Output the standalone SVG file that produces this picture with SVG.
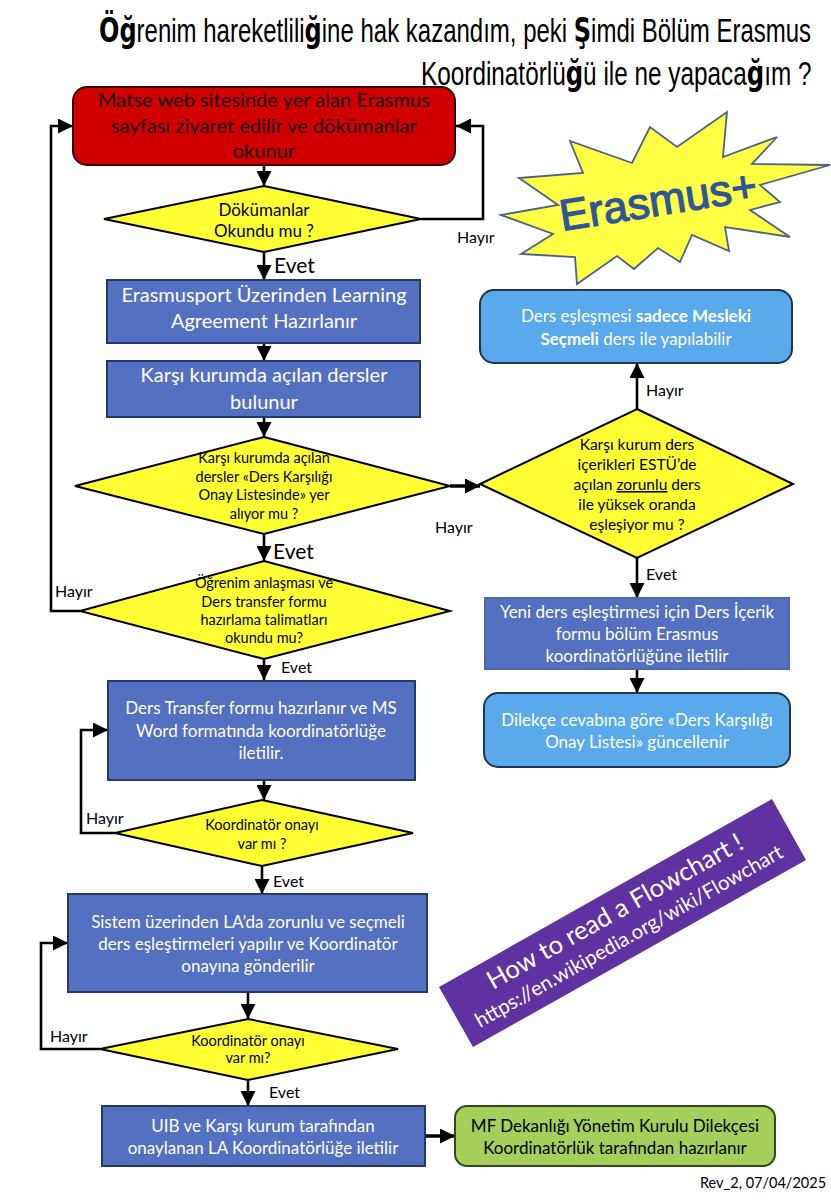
<svg xmlns="http://www.w3.org/2000/svg" width="831" height="1200" viewBox="0 0 831 1200">
<style>
text{font-family:"Lato","Noto Sans",sans-serif;text-anchor:middle}
.t{font-size:17px;fill:#fff}
.dt{font-size:14.5px;fill:#000}
.lab{font-size:16px;fill:#000;text-anchor:start}
.big{font-size:21px;fill:#000;text-anchor:start}
.title{font-family:"Liberation Sans",sans-serif;font-size:30px;fill:#000;text-anchor:start}
.title tspan{font-family:"DejaVu Sans",sans-serif;font-weight:bold}
.d{fill:#ffff33;stroke:#000;stroke-width:2}
.b{fill:#5470c0;stroke:#25396b;stroke-width:2}
.l{fill:#5aa9ea;stroke:#1f3550;stroke-width:2}
.c{fill:none;stroke:#000;stroke-width:2.6;marker-end:url(#a)}
.r{font-size:20.1px;fill:#1a0000}
.n{font-size:17px;fill:#000}
</style>
<defs><marker id="a" viewBox="0 0 10 10" refX="10" refY="5" markerUnits="userSpaceOnUse" markerWidth="15" markerHeight="15" orient="auto"><path d="M0 0L10 5L0 10z" fill="#000"/></marker></defs>
<rect width="831" height="1200" fill="#fff"/>
<g id="title">
<text class="title" transform="translate(99 42) scale(.8 1.1)"><tspan>Öğ</tspan>renim hareketlili<tspan>ğ</tspan>ine hak kazandım, peki <tspan>Ş</tspan>imdi Bölüm Erasmus</text>
<text class="title" transform="translate(421 85) scale(.811 1.1)">Koordinatörlü<tspan>ğ</tspan>ü ile ne yapaca<tspan>ğ</tspan>ım ?</text>
</g>
<g id="connectors">
<path class="c" d="M264 165V186"/>
<path class="c" d="M421 219H483V126H456"/>
<path class="c" d="M264 252V280"/>
<path class="c" d="M264 343V361"/>
<path class="c" d="M264 417V437"/>
<path class="c" d="M450 486H480" style="stroke-width:3.5"/>
<path class="c" d="M264 534V561"/>
<path class="c" d="M80 611H51V126H73"/>
<path class="c" d="M264 659V680"/>
<path class="c" d="M264 780V800"/>
<path class="c" d="M115 833H81V730H108"/>
<path class="c" d="M262 866V894"/>
<path class="c" d="M248 992V1019"/>
<path class="c" d="M100 1049H41V943H68"/>
<path class="c" d="M248 1080V1106"/>
<path class="c" d="M425 1136H455" style="stroke-width:3.5"/>
<path class="c" d="M637 409V363"/>
<path class="c" d="M637 558V598"/>
<path class="c" d="M637 669V693"/>
</g>
<g id="n1"><rect x="73" y="87" width="382" height="78" rx="14" fill="#d10000" stroke="#3a0000" stroke-width="2"/>
<text class="r" x="264" y="107">Matse web sitesinde yer alan Erasmus</text><text class="r" x="264" y="133">sayfası ziyaret edilir ve dökümanlar</text><text class="r" x="264" y="158">okunur</text></g>
<g id="n2"><polygon class="d" points="264,186 421,219 264,252 104,219"/><text class="dt" x="264" y="216" style="font-size:17px">Dökümanlar</text><text class="dt" x="264" y="237" style="font-size:17px">Okundu mu ?</text></g>
<g id="n3"><rect class="b" x="107" y="280" width="313" height="63"/><text class="t" x="264" y="302" style="font-size:20px">Erasmusport Üzerinden Learning</text><text class="t" x="264" y="328" style="font-size:20px">Agreement Hazırlanır</text></g>
<g id="n4"><rect class="b" x="107" y="361" width="313" height="56"/><text class="t" x="264" y="382" style="font-size:20px">Karşı kurumda açılan dersler</text><text class="t" x="264" y="409" style="font-size:20px">bulunur</text></g>
<g id="n5"><polygon class="d" points="264,437 450,486 264,534 75,486"/><text class="dt" x="264" y="463">Karşı kurumda açılan</text><text class="dt" x="264" y="482">dersler «Ders Karşılığı</text><text class="dt" x="264" y="500">Onay Listesinde» yer</text><text class="dt" x="264" y="519">alıyor mu ?</text></g>
<g id="n6"><polygon class="d" points="264,561 450,611 264,659 80,611"/><text class="dt" x="264" y="588">Öğrenim anlaşması ve</text><text class="dt" x="264" y="607">Ders transfer formu</text><text class="dt" x="264" y="625">hazırlama talimatları</text><text class="dt" x="264" y="643">okundu mu?</text></g>
<g id="n7"><rect class="b" x="108" y="681" width="307" height="99"/><text class="t" x="261" y="714">Ders Transfer formu hazırlanır ve MS</text><text class="t" x="261" y="737">Word formatında koordinatörlüğe</text><text class="t" x="261" y="759">iletilir.</text></g>
<g id="n8"><polygon class="d" points="262,800 413,833 262,866 115,833"/><text class="dt" x="262" y="830">Koordinatör onayı</text><text class="dt" x="262" y="849">var mı ?</text></g>
<g id="n9"><rect class="b" x="68" y="894" width="359" height="98"/><text class="t" x="248" y="928">Sistem üzerinden LA’da zorunlu ve seçmeli</text><text class="t" x="248" y="950">ders eşleştirmeleri yapılır ve Koordinatör</text><text class="t" x="248" y="972">onayına gönderilir</text></g>
<g id="n10"><polygon class="d" points="248,1019 398,1049 248,1080 100,1049"/><text class="dt" x="248" y="1046">Koordinatör onayı</text><text class="dt" x="248" y="1063">var mı?</text></g>
<g id="n11"><rect class="b" x="102" y="1106" width="323" height="60"/><text class="t" x="263" y="1132">UIB ve Karşı kurum tarafından</text><text class="t" x="263" y="1154">onaylanan LA Koordinatörlüğe iletilir</text></g>
<g id="n12"><rect x="455" y="1106" width="320" height="60" rx="12" fill="#a4cf5a" stroke="#2f4a20" stroke-width="2"/><text class="n" x="615" y="1132">MF Dekanlığı Yönetim Kurulu Dilekçesi</text><text class="n" x="615" y="1154">Koordinatörlük tarafından hazırlanır</text></g>
<g id="n13"><rect class="l" x="480" y="290" width="312" height="73" rx="14"/><text class="t" x="636" y="322">Ders eşleşmesi <tspan font-weight="bold">sadece Mesleki</tspan></text><text class="t" x="636" y="345"><tspan font-weight="bold">Seçmeli</tspan> ders ile yapılabilir</text></g>
<g id="n14"><polygon class="d" points="637,409 793,484 637,558 480,484"/><text class="dt" x="637" y="450" style="font-size:15.5px">Karşı kurum ders</text><text class="dt" x="637" y="470" style="font-size:15.5px">içerikleri ESTÜ’de</text><text class="dt" x="637" y="490" style="font-size:15.5px">açılan <tspan text-decoration="underline">zorunlu</tspan> ders</text><text class="dt" x="637" y="510" style="font-size:15.5px">ile yüksek oranda</text><text class="dt" x="637" y="530" style="font-size:15.5px">eşleşiyor mu ?</text></g>
<g id="n15"><rect x="485" y="598" width="304" height="71" fill="#5470c0" stroke="#4a6aa8" stroke-width="2"/><text class="t" x="637" y="618">Yeni ders eşleştirmesi için Ders İçerik</text><text class="t" x="637" y="640">formu bölüm Erasmus</text><text class="t" x="637" y="662">koordinatörlüğüne iletilir</text></g>
<g id="n16"><rect class="l" x="484" y="693" width="306" height="74" rx="14"/><text class="t" x="637" y="726">Dilekçe cevabına göre «Ders Karşılığı</text><text class="t" x="637" y="748">Onay Listesi» güncellenir</text></g>
<g id="star"><polygon points="727,112 723,157 777,137 752,164 830,165 760,185 780,202 750,210 790,237 725,227 729,251 692,235 680,262 658,248 634,269 617,256 577,284 575,257 521,254 553,234 501,215 558,205 519,178 583,173 570,141 632,163 650,127 677,147" fill="#ffff44" stroke="#4a6285" stroke-width="1.8"/>
<text x="0" y="0" transform="translate(562 231) rotate(-9)" style="font-family:'Liberation Sans',sans-serif;font-size:44px;fill:#2f5597;stroke:#2f5597;stroke-width:1.2;text-anchor:start">Erasmus+</text></g>
<g id="note"><polygon points="772,799 806,860 473,1047 439,987" fill="#6031a0"/>
<text transform="translate(493 990) rotate(-29.4)" style="font-size:25.5px;fill:#fff;text-anchor:start">How to read a Flowchart !</text>
<text transform="translate(480 1028) rotate(-29.4)" style="font-size:20.2px;fill:#fff;text-anchor:start">https://en.wikipedia.org/wiki/Flowchart</text></g>
<g id="labels">
<text class="lab" x="457" y="243">Hayır</text><text class="big" x="274" y="273">Evet</text>
<text class="lab" x="646" y="396">Hayır</text><text class="lab" x="435" y="533">Hayır</text>
<text class="big" x="273" y="559">Evet</text><text class="lab" x="55" y="597">Hayır</text>
<text class="lab" x="281" y="673">Evet</text><text class="lab" x="646" y="580">Evet</text>
<text class="lab" x="86" y="824">Hayır</text><text class="lab" x="273" y="887">Evet</text>
<text class="lab" x="50" y="1042">Hayır</text><text class="lab" x="269" y="1098">Evet</text>
<text x="700" y="1188" style="font-size:14.5px;fill:#000;text-anchor:start">Rev_2, 07/04/2025</text>
</g>
</svg>
